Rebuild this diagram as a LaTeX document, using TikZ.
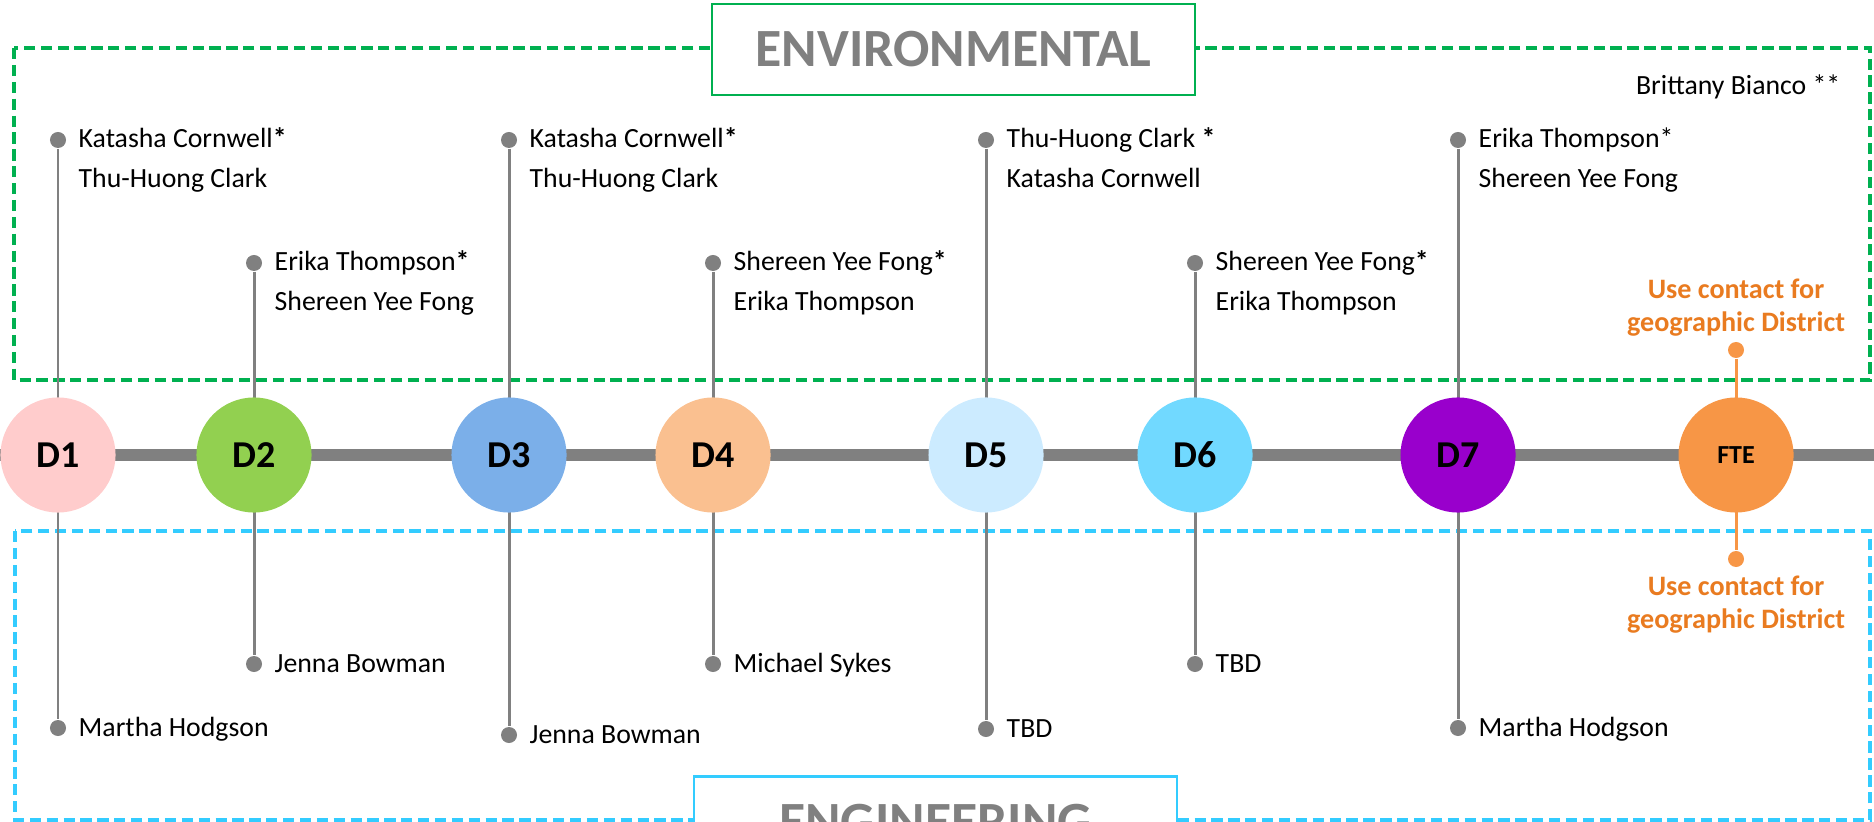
\documentclass[tikz,border=0pt]{standalone}
\usepackage{fontspec}
\setmainfont{Carlito}
\usetikzlibrary{positioning}

\definecolor{stemgray}{HTML}{808080}
\definecolor{envgreen}{HTML}{00B050}
\definecolor{engblue}{HTML}{33CCFF}
\definecolor{ftetext}{HTML}{E97B20}
\definecolor{fteorange}{HTML}{F79646}
\definecolor{cone}{HTML}{FFCCCC}
\definecolor{ctwo}{HTML}{92D050}
\definecolor{cthree}{HTML}{7BAFE9}
\definecolor{cfour}{HTML}{FAC090}
\definecolor{cfive}{HTML}{CCEBFF}
\definecolor{csix}{HTML}{71D9FF}
\definecolor{cseven}{HTML}{9900CC}

\tikzset{
	dist/.style={circle,inner sep=0,minimum size=1.15cm,font=\fontsize{10.8}{12}\selectfont\bfseries},
	pin/.style={circle,fill=stemgray,inner sep=0,minimum size=0.16cm},
	stem/.style={stemgray,line width=0.85pt},
	who/.style={anchor=base west,inner sep=0,font=\fontsize{7.9}{9}\selectfont},
	ftenote/.style={anchor=base,inner sep=0,text=ftetext,font=\fontsize{8}{9}\selectfont\bfseries},
	frame/.style={line width=1pt,dash pattern=on 3.2pt off 1.6pt},
	title/.style={fill=white,line width=0.6pt,minimum width=4.83cm,minimum height=0.91cm,text=stemgray,font=\fontsize{15.3}{18}\selectfont\bfseries}
}

\begin{document}
\begin{tikzpicture}[x=0.01cm,y=-0.01cm]
	\useasboundingbox(0,0)rectangle(1874,822);
	\clip(0,0)rectangle(1874,822);
	% team frames
	\draw[frame,envgreen](14,48)rectangle(1870,380);
	\draw[frame,engblue](15,531)rectangle(1870,820);
	% timeline
	\coordinate(west)at(0,455);
	\coordinate(east)at(1874,455);
	\draw[stemgray,line width=3.4pt](west)--(east);
	% pins
	\node[pin](t1)at(58,140){};
	\node[pin](b1)at(58,728){};
	\node[pin](t2)at(254,263){};
	\node[pin](b2)at(254,664){};
	\node[pin](t3)at(509,140){};
	\node[pin](b3)at(509,735){};
	\node[pin](t4)at(713,263){};
	\node[pin](b4)at(713,664){};
	\node[pin](t5)at(986,140){};
	\node[pin](b5)at(986,729){};
	\node[pin](t6)at(1195,263){};
	\node[pin](b6)at(1195,664){};
	\node[pin](t7)at(1458,140){};
	\node[pin](b7)at(1458,728){};
	\node[pin,fill=fteorange](tf)at(1736,350){};
	\node[pin,fill=fteorange](bf)at(1736,559){};
	\draw[stem](t1)--(b1);
	\draw[stem](t2)--(b2);
	\draw[stem](t3)--(b3);
	\draw[stem](t4)--(b4);
	\draw[stem](t5)--(b5);
	\draw[stem](t6)--(b6);
	\draw[stem](t7)--(b7);
	\draw[stem,fteorange](tf)--(bf);
	% districts
	\node[dist,fill=cone](d1)at(58,455){D1};
	\node[dist,fill=ctwo](d2)at(254,455){D2};
	\node[dist,fill=cthree](d3)at(509,455){D3};
	\node[dist,fill=cfour](d4)at(713,455){D4};
	\node[dist,fill=cfive](d5)at(986,455){D5};
	\node[dist,fill=csix](d6)at(1195,455){D6};
	\node[dist,fill=cseven](d7)at(1458,455){D7};
	\node[dist,fill=fteorange,font=\fontsize{7.4}{9}\selectfont\bfseries](fte)at(1736,455){FTE};
	% environmental names
	\node[who](e1a)at(78,148){Katasha Cornwell\textbf{*}};
	\node[who](e1b)at(78,188){Thu-Huong Clark};
	\node[who](e2a)at(274,271){Erika Thompson\textbf{*}};
	\node[who](e2b)at(274,311){Shereen Yee Fong};
	\node[who](e3a)at(529,148){Katasha Cornwell\textbf{*}};
	\node[who](e3b)at(529,188){Thu-Huong Clark};
	\node[who](e4a)at(733,271){Shereen Yee Fong\textbf{*}};
	\node[who](e4b)at(733,311){Erika Thompson};
	\node[who](e5a)at(1006,148){Thu-Huong Clark \textbf{*}};
	\node[who](e5b)at(1006,188){Katasha Cornwell};
	\node[who](e6a)at(1215,271){Shereen Yee Fong\textbf{*}};
	\node[who](e6b)at(1215,311){Erika Thompson};
	\node[who](e7a)at(1478,148){Erika Thompson*};
	\node[who](e7b)at(1478,188){Shereen Yee Fong};
	\node[who,anchor=base east](bb)at(1841,95){Brittany Bianco **};
	% engineering names
	\node[who](g1)at(78,736){Martha Hodgson};
	\node[who](g2)at(274,672){Jenna Bowman};
	\node[who](g3)at(529,743){Jenna Bowman};
	\node[who](g4)at(733,672){Michael Sykes};
	\node[who](g5)at(1006,737){TBD};
	\node[who](g6)at(1215,672){TBD};
	\node[who](g7)at(1478,736){Martha Hodgson};
	% FTE notes
	\node[ftenote](fa)at(1736,299){Use contact for};
	\node[ftenote](fb)at(1736,332){geographic District};
	\node[ftenote](fc)at(1736,595){Use contact for};
	\node[ftenote](fd)at(1736,628){geographic District};
	% titles
	\node[title,draw=envgreen](env)at(953.5,49.5){ENVIRONMENTAL};
	\node[title,draw=engblue](eng)at(935.5,822){ENGINEERING};
\end{tikzpicture}
\end{document}
